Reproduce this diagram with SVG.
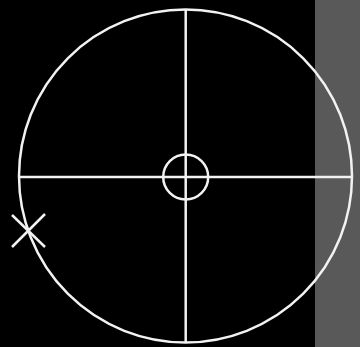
<svg xmlns="http://www.w3.org/2000/svg" width="360" height="347" viewBox="0 0 360 347">
<style>
.s{fill:none;stroke:#f2f2f2;stroke-width:2.5}
</style>
<rect x="0" y="0" width="360" height="347" fill="#000"/>
<rect x="315" y="0" width="45" height="347" fill="#595959"/>
<g id="outer"><circle class="s" cx="185.5" cy="176" r="166.5"/></g>
<g id="connectors">
<line class="s" x1="19" y1="177" x2="352" y2="177"/>
<line class="s" x1="185.7" y1="10" x2="185.7" y2="342"/>
</g>
<g id="center"><circle class="s" cx="185.7" cy="177" r="22.5"/></g>
<g id="xmark">
<line class="s" x1="12" y1="215" x2="45" y2="247"/>
<line class="s" x1="45" y1="214" x2="12" y2="247"/>
</g>
</svg>
